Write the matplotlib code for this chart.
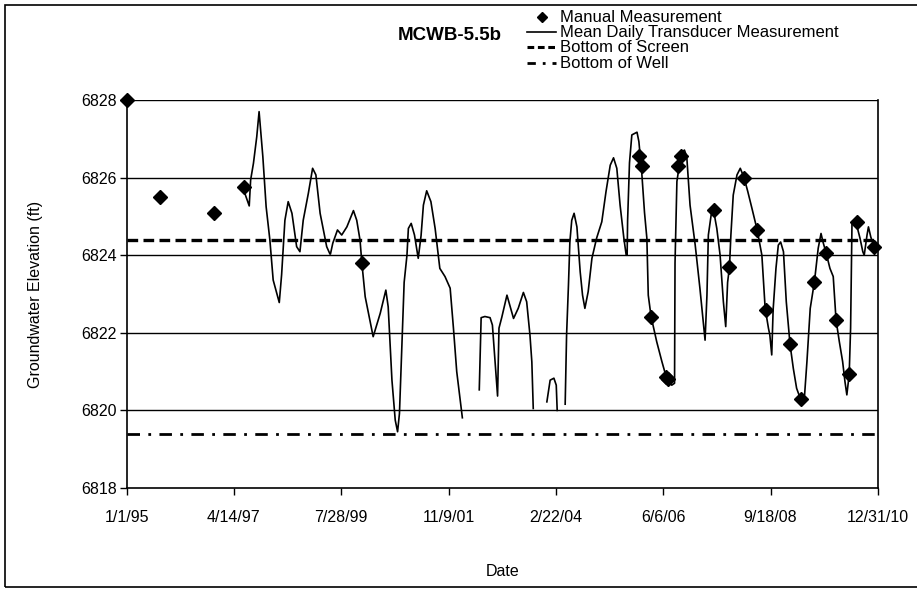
import numpy as np
import pandas as pd
import matplotlib
matplotlib.use("Agg")
import matplotlib.pyplot as plt
from matplotlib.lines import Line2D
from matplotlib.patches import Rectangle

plt.rcParams['font.family'] = ['Liberation Sans', 'DejaVu Sans']

# ---------------- data ----------------
title = "MCWB-5.5b"
x_label = "Date"
y_label = "Groundwater Elevation (ft)"

# manual measurements (decimal year, elevation ft)
manual_year = [1995.00, 1995.71, 1996.87, 1997.49, 2000.01, 2005.92, 2005.97,
               2006.17, 2006.48, 2006.54, 2006.75, 2006.80, 2007.50, 2007.84,
               2008.15, 2008.43, 2008.62, 2009.13, 2009.37, 2009.65, 2009.90,
               2010.11, 2010.39, 2010.55, 2010.92]
manual_elev = [6828.0, 6825.5, 6825.1, 6825.75, 6823.8, 6826.55, 6826.3,
               6822.42, 6820.87, 6820.8, 6826.3, 6826.55, 6825.16, 6823.7,
               6826.0, 6824.65, 6822.6, 6821.7, 6820.3, 6823.32, 6824.05,
               6822.33, 6820.93, 6824.86, 6824.2]

# mean daily transducer record (decimal year, elevation ft); NaN = data gap
trans_year = [1997.48, 1997.61, 1997.64, 1997.70, 1997.77, 1997.82, 1997.90, 1997.97,
              1998.05, 1998.12, 1998.25, 1998.30, 1998.37, 1998.44, 1998.52, 1998.62,
              1998.69, 1998.76, 1998.87, 1998.96, 1999.03, 1999.12, 1999.26, 1999.33,
              1999.34, 1999.39, 1999.49, 1999.58, 1999.69, 1999.83, 1999.90, 1999.97,
              2000.01, 2000.08, 2000.18, 2000.25, 2000.40, 2000.52, 2000.57, 2000.65,
              2000.72, 2000.77, 2000.81, 2000.86, 2000.91, 2000.97, 2001.00, 2001.06,
              2001.13, 2001.21, 2001.27, 2001.32, 2001.39, 2001.48, 2001.57, 2001.67,
              2001.78, 2001.89, 2001.96, 2002.03, 2002.15,
              2002.30,
              2002.51, 2002.55, 2002.63, 2002.74, 2002.79, 2002.90, 2002.93, 2002.99,
              2003.10, 2003.24, 2003.34, 2003.45, 2003.52, 2003.59, 2003.63, 2003.66,
              2003.80,
              2003.95, 2004.02, 2004.10, 2004.15, 2004.17,
              2004.25,
              2004.34, 2004.37, 2004.41, 2004.44, 2004.48, 2004.53, 2004.59, 2004.66,
              2004.71, 2004.76, 2004.83, 2004.91, 2005.01, 2005.12, 2005.21, 2005.30,
              2005.37, 2005.44, 2005.51, 2005.59, 2005.64, 2005.66, 2005.67, 2005.71,
              2005.76, 2005.87, 2005.91, 2005.97, 2006.03, 2006.08, 2006.11, 2006.17,
              2006.29, 2006.40, 2006.50, 2006.61, 2006.67, 2006.68, 2006.72, 2006.81,
              2006.88, 2006.93, 2007.00, 2007.11, 2007.21, 2007.32, 2007.36, 2007.39,
              2007.45, 2007.50, 2007.57, 2007.64, 2007.71, 2007.76, 2007.80, 2007.84,
              2007.87, 2007.92, 2008.00, 2008.07, 2008.15, 2008.23, 2008.32, 2008.43,
              2008.53, 2008.60, 2008.67, 2008.70, 2008.74, 2008.77, 2008.83, 2008.88,
              2008.93, 2008.99, 2009.05, 2009.13, 2009.20, 2009.27, 2009.36, 2009.44,
              2009.49, 2009.56, 2009.65, 2009.73, 2009.79, 2009.83, 2009.90, 2009.98,
              2010.05, 2010.11, 2010.18, 2010.25, 2010.30, 2010.34, 2010.39, 2010.42,
              2010.45, 2010.49, 2010.55, 2010.62, 2010.68, 2010.71, 2010.77, 2010.80,
              2010.85, 2010.91, 2010.98]
trans_elev = [6825.72, 6825.27, 6825.94, 6826.37, 6827.05, 6827.70, 6826.54, 6825.25,
              6824.39, 6823.36, 6822.78, 6823.50, 6824.90, 6825.38, 6825.08, 6824.22,
              6824.09, 6824.90, 6825.60, 6826.24, 6826.07, 6825.08, 6824.22, 6824.03,
              6824.03, 6824.31, 6824.65, 6824.52, 6824.73, 6825.15, 6824.90, 6824.39,
              6823.79, 6822.93, 6822.33, 6821.90, 6822.50, 6823.10, 6822.67, 6820.78,
              6819.75, 6819.45, 6819.92, 6821.64, 6823.30, 6824.00, 6824.69, 6824.82,
              6824.52, 6823.92, 6824.50, 6825.29, 6825.66, 6825.38, 6824.69, 6823.66,
              6823.45, 6823.15, 6822.12, 6821.00, 6819.81,
              np.nan,
              6820.53, 6822.39, 6822.42, 6822.39, 6822.20, 6820.37, 6822.12, 6822.40,
              6822.97, 6822.37, 6822.63, 6823.04, 6822.80, 6821.94, 6821.25, 6820.05,
              np.nan,
              6820.22, 6820.78, 6820.83, 6820.65, 6820.00,
              np.nan,
              6820.16, 6821.94, 6823.23, 6824.34, 6824.90, 6825.08, 6824.73, 6823.57,
              6822.97, 6822.63, 6823.06, 6823.92, 6824.44, 6824.86, 6825.64, 6826.32,
              6826.51, 6826.24, 6825.29, 6824.44, 6824.00, 6824.00, 6824.90, 6826.38,
              6827.10, 6827.17, 6826.93, 6826.15, 6825.10, 6824.44, 6822.97, 6822.42,
              6821.77, 6821.26, 6820.83, 6820.65, 6820.70, 6823.80, 6825.90, 6826.63,
              6826.71, 6826.54, 6825.29, 6824.26, 6823.15, 6821.81, 6822.97, 6824.52,
              6825.04, 6825.16, 6824.69, 6824.00, 6822.80, 6822.16, 6823.30, 6823.70,
              6824.52, 6825.55, 6826.07, 6826.24, 6826.00, 6825.64, 6825.20, 6824.65,
              6824.00, 6822.63, 6822.12, 6821.94, 6821.43, 6822.60, 6823.66, 6824.26,
              6824.34, 6824.09, 6822.80, 6821.70, 6821.08, 6820.57, 6820.27, 6820.40,
              6821.26, 6822.63, 6823.32, 6824.18, 6824.56, 6824.35, 6824.05, 6823.66,
              6823.45, 6822.33, 6821.77, 6821.26, 6820.74, 6820.40, 6820.93, 6822.12,
              6824.86, 6824.90, 6824.77, 6824.44, 6824.09, 6824.00, 6824.52, 6824.73,
              6824.47, 6824.26, 6824.22]

bottom_of_screen = 6824.4
bottom_of_well = 6819.4

x_ticks = ["1995-01-01", "1997-04-14", "1999-07-28", "2001-11-09",
           "2004-02-22", "2006-06-06", "2008-09-18", "2010-12-31"]
x_tick_labels = ["1/1/95", "4/14/97", "7/28/99", "11/9/01",
                 "2/22/04", "6/6/06", "9/18/08", "12/31/10"]
y_ticks = [6818, 6820, 6822, 6824, 6826, 6828]

legend_labels = ["Manual Measurement", "Mean Daily Transducer Measurement",
                 "Bottom of Screen", "Bottom of Well"]


def to_date(years):
    years = np.asarray(years, dtype=float)
    return pd.Timestamp("1995-01-01") + pd.to_timedelta((years - 1995.0) * 365.25, unit="D")


# ---------------- figure ----------------
W, H = 917, 590
fig = plt.figure(figsize=(W / 100, H / 100), dpi=100)
fig.patch.set_facecolor("white")
fig.patches.append(Rectangle((5 / W, 3 / H), 1.2, (H - 8) / H, transform=fig.transFigure,
                             fill=False, edgecolor="black", linewidth=1.2))

ax = fig.add_axes([126.7 / W, 1 - 488 / H, (877.7 - 126.7) / W, (488 - 100) / H])

xmin, xmax = pd.Timestamp(x_ticks[0]), pd.Timestamp(x_ticks[-1])

ax.set_ylim(6818, 6828)
ax.set_xlim(xmin, xmax)

for yv in y_ticks[1:]:
    ax.axhline(yv, color="black", linewidth=1.0, zorder=1)

screen_style = dict(color="black", linewidth=2.4, linestyle=(0, (3.2, 1.6)))
well_style = dict(color="black", linewidth=2.0, linestyle=(0, (4.5, 3, 1, 3)))

ax.plot([xmin, xmax], [bottom_of_screen] * 2, zorder=2, **screen_style)
ax.plot([xmin, xmax], [bottom_of_well] * 2, zorder=2, **well_style)

ax.plot(to_date(trans_year), trans_elev, color="black", linewidth=1.2, zorder=3)
ax.plot(to_date(manual_year), manual_elev, linestyle="none", marker="D",
        markersize=7, color="black", zorder=4, clip_on=False)

ax.set_xticks(pd.to_datetime(x_ticks))
ax.set_xticklabels(x_tick_labels)
ax.set_yticks(y_ticks)
ax.set_yticklabels([str(v) for v in y_ticks])
ax.tick_params(axis="both", direction="out", length=5, width=1, labelsize=11.5, pad=2)
ax.tick_params(axis="x", pad=11)
for s in ax.spines.values():
    s.set_linewidth(1.2)
ax.spines["top"].set_visible(False)

ax.set_xlabel(x_label, fontsize=11.5, labelpad=30)
ax.set_ylabel(y_label, fontsize=11.5, labelpad=28)
ax.xaxis.set_label_coords(0.5, -(572 - 488) / (488 - 100), transform=ax.transAxes)
ax.yaxis.set_label_coords(-(126.7 - 35) / (877.7 - 126.7), 0.5, transform=ax.transAxes)
ax.xaxis.label.set_va("center")
ax.yaxis.label.set_va("center")

fig.text(450 / W, 1 - 36 / H, title, fontsize=13.5, fontweight="bold",
         ha="center", va="center")

# legend drawn in figure pixel coordinates
rows_y = [17, 32, 47, 63]
hx0, hx1, tx = 527, 556, 560


def fx(px):
    return px / W


def fy(py):
    return 1 - py / H


fig.add_artist(Line2D([fx((hx0 + hx1) / 2)], [fy(rows_y[0])], linestyle="none",
                      marker="D", markersize=5.5, color="black",
                      transform=fig.transFigure))
fig.add_artist(Line2D([fx(hx0), fx(hx1)], [fy(rows_y[1])] * 2, color="black",
                      linewidth=1.2, transform=fig.transFigure))
fig.add_artist(Line2D([fx(hx0), fx(hx1)], [fy(rows_y[2])] * 2, color="black",
                      linewidth=2.2, linestyle=(0, (2.2, 1.2)), transform=fig.transFigure))
fig.add_artist(Line2D([fx(hx0), fx(hx1)], [fy(rows_y[3])] * 2, color="black",
                      linewidth=2.0, linestyle=(0, (3, 2.5, 1, 2.5)), transform=fig.transFigure))
for lab, ry in zip(legend_labels, rows_y):
    fig.text(fx(tx), fy(ry), lab, fontsize=12, ha="left", va="center")

fig.savefig("out.png", dpi=100)
